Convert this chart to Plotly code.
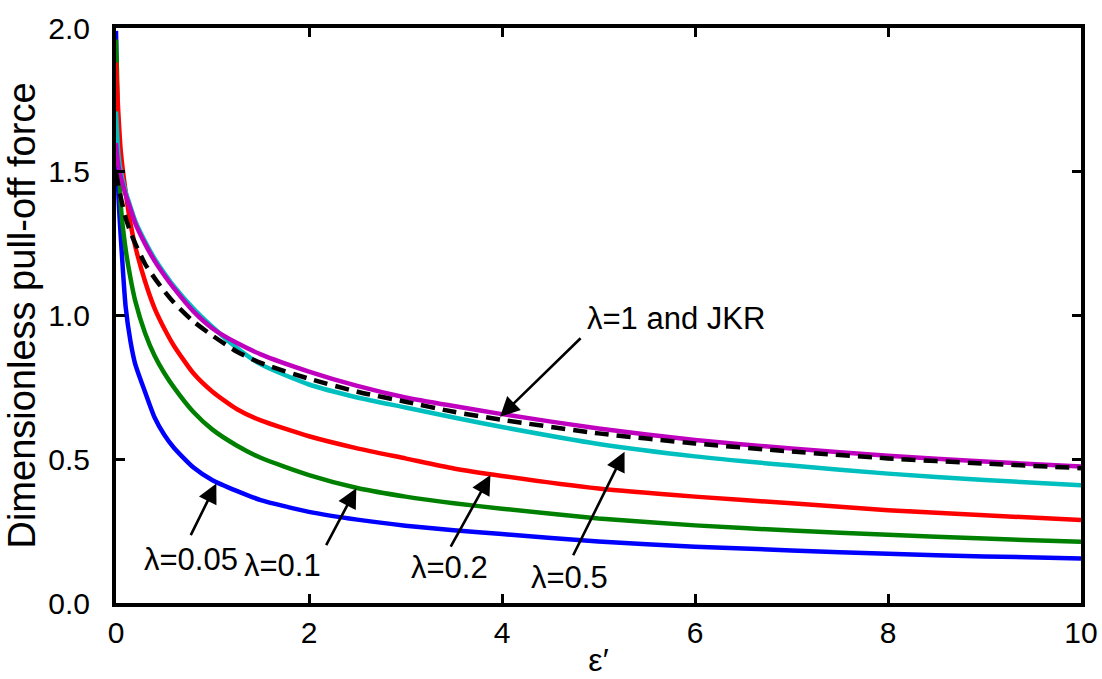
import plotly.graph_objects as go

eps = [0, 0.01, 0.025, 0.05, 0.1, 0.15, 0.2, 0.3, 0.4, 0.5, 0.6, 0.8, 1.0, 1.25, 1.5,
       2, 2.5, 3, 3.5, 4, 5, 6, 7, 8, 9, 10]

f_005 = [1.99, 1.72, 1.42, 1.27, 1.03, 0.91, 0.83, 0.735, 0.645, 0.585, 0.54, 0.472, 0.427, 0.39, 0.358,
         0.317, 0.29, 0.269, 0.253, 0.24, 0.214, 0.196, 0.183, 0.171, 0.162, 0.155]
f_01 = [1.96, 1.85, 1.60, 1.38, 1.23, 1.13, 1.05, 0.94, 0.86, 0.80, 0.75, 0.665, 0.603, 0.548, 0.505,
        0.445, 0.40, 0.37, 0.347, 0.328, 0.294, 0.27, 0.252, 0.237, 0.224, 0.213]
f_02 = [1.88, 1.80, 1.70, 1.57, 1.43, 1.32, 1.24, 1.12, 1.025, 0.955, 0.895, 0.80, 0.735, 0.675, 0.635,
        0.58, 0.538, 0.503, 0.468, 0.442, 0.398, 0.37, 0.347, 0.323, 0.305, 0.289]
f_05 = [1.71, 1.64, 1.56, 1.50, 1.43, 1.378, 1.328, 1.258, 1.198, 1.148, 1.102, 1.025, 0.96, 0.888, 0.83,
        0.76, 0.715, 0.68, 0.645, 0.612, 0.553, 0.51, 0.478, 0.45, 0.428, 0.41]
f_1 = [1.60, 1.56, 1.52, 1.48, 1.42, 1.37, 1.32, 1.25, 1.19, 1.14, 1.095, 1.015, 0.955, 0.905, 0.865,
       0.805, 0.755, 0.715, 0.685, 0.657, 0.607, 0.567, 0.537, 0.512, 0.492, 0.475]
f_jkr = [1.50, 1.48, 1.45, 1.41, 1.34, 1.29, 1.25, 1.18, 1.13, 1.085, 1.045, 0.98, 0.93, 0.875, 0.835,
         0.78, 0.735, 0.70, 0.665, 0.637, 0.59, 0.555, 0.527, 0.503, 0.485, 0.469]

series = [
    ("λ=0.05", f_005, "#0000FF", "solid"),
    ("λ=0.1", f_01, "#008000", "solid"),
    ("λ=0.2", f_02, "#FF0000", "solid"),
    ("λ=0.5", f_05, "#00BFBF", "solid"),
    ("λ=1", f_1, "#BF00BF", "solid"),
    ("JKR", f_jkr, "#000000", "14px,8px"),
]

FONT = "Arial, Liberation Sans, sans-serif"

fig = go.Figure()
for name, ys, col, dash in series:
    fig.add_trace(go.Scatter(x=eps, y=ys, mode="lines", name=name,
                             line=dict(color=col, width=4.5, dash=dash, shape="spline", smoothing=0.6)))

# labels: (text, text x, text y, arrow tip x, tip y, tail x, tail y)
labels = [
    ("λ=1 and JKR", 5.80, 0.988, 3.98, 0.648, 4.83, 0.926),
    ("λ=0.5", 4.70, 0.087, 5.27, 0.526, 4.73, 0.161),
    ("λ=0.2", 3.46, 0.122, 3.88, 0.445, 3.46, 0.191),
    ("λ=0.1", 1.73, 0.129, 2.49, 0.399, 2.17, 0.196),
    ("λ=0.05", 0.777, 0.153, 1.04, 0.416, 0.767, 0.231),
]
for txt, tx, ty, hx, hy, ax, ay in labels:
    fig.add_annotation(x=hx, y=hy, ax=ax, ay=ay, xref="x", yref="y", axref="x", ayref="y",
                       text="", showarrow=True, arrowhead=2, arrowsize=1.5, arrowwidth=2.6,
                       arrowcolor="black", standoff=0, startstandoff=0)
    fig.add_annotation(x=tx, y=ty, xref="x", yref="y", text=txt, showarrow=False,
                       font=dict(family=FONT, size=31, color="black"))

axis_common = dict(showline=True, linewidth=4, linecolor="black", mirror="ticks",
                   ticks="inside", ticklen=9, tickwidth=3, tickcolor="black",
                   showgrid=False, zeroline=False, automargin=False,
                   tickfont=dict(family=FONT, size=30, color="black"))

fig.update_xaxes(range=[0, 10], tickvals=[0, 2, 4, 6, 8, 10], ticktext=["0", "2", "4", "6", "8", "10"],
                 title=dict(text="ε′", font=dict(family=FONT, size=32, color="black"), standoff=2),
                 **axis_common)
fig.update_yaxes(range=[0, 2], tickvals=[0, 0.5, 1.0, 1.5, 2.0],
                 ticktext=["0.0", "0.5", "1.0", "1.5", "2.0"],
                 title=dict(text="Dimensionless pull-off force", font=dict(family=FONT, size=38, color="black"),
                            standoff=2),
                 ticklabelstandoff=16,
                 **axis_common)

fig.update_layout(width=1102, height=679, margin=dict(l=116, r=21, t=28, b=76),
                  paper_bgcolor="white", plot_bgcolor="white", showlegend=False,
                  font=dict(family=FONT))

fig.write_html("out.html")
